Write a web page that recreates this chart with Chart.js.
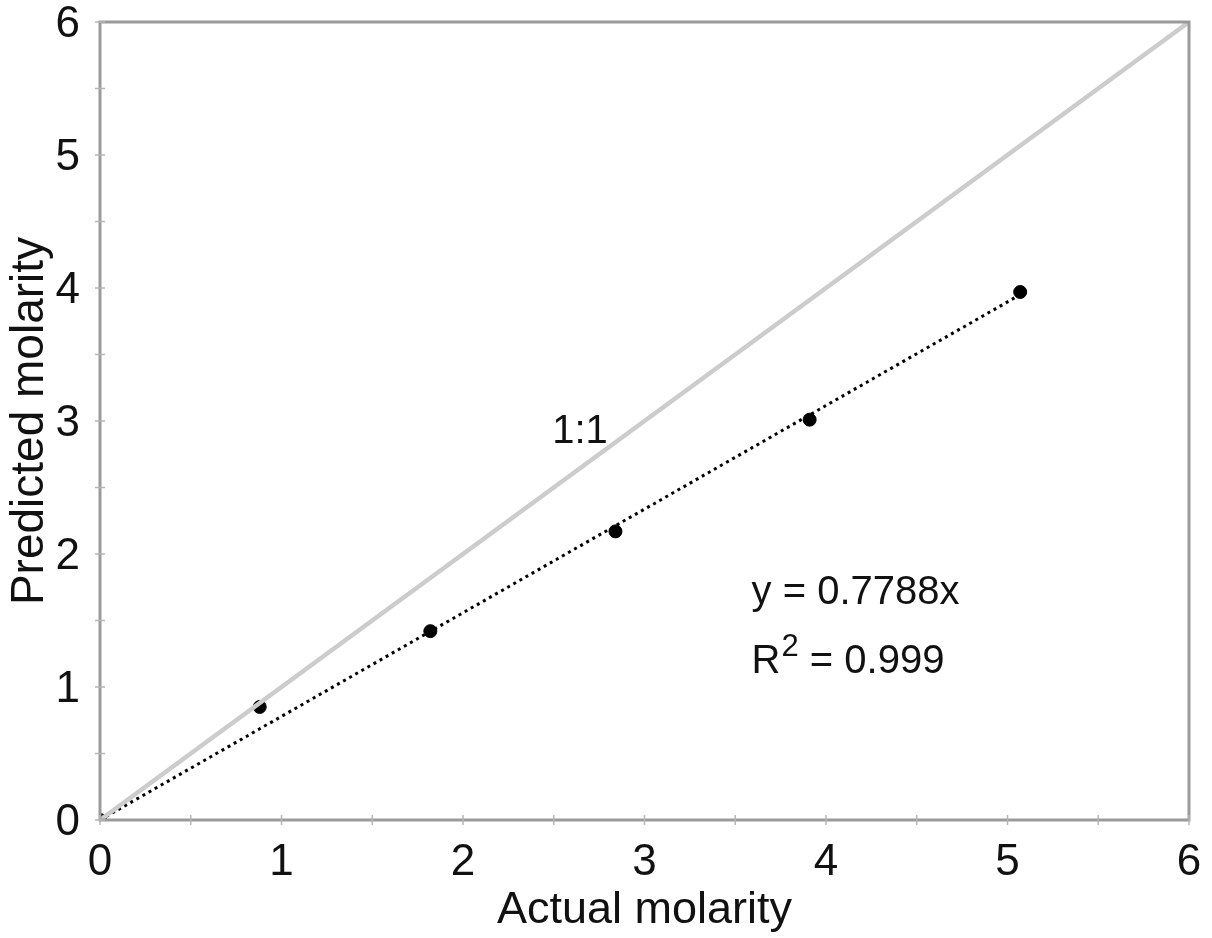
<!DOCTYPE html>
<html>
<head>
<meta charset="utf-8">
<script src="https://cdn.jsdelivr.net/npm/chart.js@4.4.0/dist/chart.umd.min.js"></script>
<style>
  html, body { margin: 0; padding: 0; background: #fff; }
  #wrap { width: 1212px; height: 938px; }
</style>
</head>
<body>
<div id="wrap"><canvas id="molarityChart" width="1212" height="938"></canvas></div>
<script>
// measured points
const actualMolarity = [0, 0.88, 1.82, 2.84, 3.91, 5.07];
const predictedMolarity = [0, 0.85, 1.42, 2.17, 3.01, 3.97];

// fitted trend line y = 0.7788x (end points)
const trendX = [0, 5.07];
const trendY = [0, 3.95];

// 1:1 reference line
const oneToOneX = [0, 6];
const oneToOneY = [0, 6];

const tickValues = [0, 1, 2, 3, 4, 5, 6];
const minorTickValues = [0.5, 1.5, 2.5, 3.5, 4.5, 5.5];

const FONT = 'Liberation Sans, Arial, sans-serif';
const AXIS_GRAY = '#9a9a9a';

function toPoints(xs, ys) {
    return xs.map((x, i) => ({ x: x, y: ys[i] }));
}

// keep label overhang from pushing the plot area around
function noPadding(scale) {
    scale.paddingTop = 0;
    scale.paddingBottom = 0;
    scale.paddingLeft = 0;
    scale.paddingRight = 0;
}

// frame, tick marks and text notes
const framePlugin = {
    id: 'frame',
    afterDraw(chart) {
        const ctx = chart.ctx;
        const xs = chart.scales.x;
        const ys = chart.scales.y;
        const a = chart.chartArea;
        ctx.save();
        ctx.strokeStyle = AXIS_GRAY;
        ctx.lineWidth = 3;
        ctx.strokeRect(a.left, a.top, a.right - a.left, a.bottom - a.top);

        ctx.lineWidth = 1.5;
        ctx.strokeStyle = '#b5b5b5';
        tickValues.concat(minorTickValues).forEach(v => {
            const px = xs.getPixelForValue(v);
            ctx.beginPath();
            ctx.moveTo(px, a.bottom - 5);
            ctx.lineTo(px, a.bottom + 5);
            ctx.stroke();
            const py = ys.getPixelForValue(v);
            ctx.beginPath();
            ctx.moveTo(a.left - 5, py);
            ctx.lineTo(a.left + 5, py);
            ctx.stroke();
        });

        ctx.fillStyle = '#111';
        ctx.textBaseline = 'middle';
        ctx.font = '40px ' + FONT;
        ctx.textAlign = 'center';
        ctx.fillText('1:1', xs.getPixelForValue(2.645), ys.getPixelForValue(2.92));

        ctx.textAlign = 'left';
        const ex = xs.getPixelForValue(3.59);
        ctx.fillText('y = 0.7788x', ex, ys.getPixelForValue(1.71));
        const ry = ys.getPixelForValue(1.19);
        ctx.fillText('R', ex, ry);
        const rw = ctx.measureText('R').width;
        ctx.font = '31px ' + FONT;
        ctx.fillText('2', ex + rw + 1, ry - 14);
        const sw = ctx.measureText('2').width;
        ctx.font = '40px ' + FONT;
        ctx.fillText(' = 0.999', ex + rw + sw + 1, ry);
        ctx.restore();
    }
};

new Chart(document.getElementById('molarityChart'), {
    type: 'scatter',
    data: {
        datasets: [
            {
                label: '1:1',
                type: 'line',
                data: toPoints(oneToOneX, oneToOneY),
                borderColor: '#cccccc',
                borderWidth: 4.5,
                pointRadius: 0,
                fill: false
            },
            {
                label: 'Trend',
                type: 'line',
                data: toPoints(trendX, trendY),
                borderColor: '#000',
                borderWidth: 3,
                borderDash: [3, 4],
                pointRadius: 0,
                fill: false
            },
            {
                label: 'Data',
                data: toPoints(actualMolarity, predictedMolarity),
                backgroundColor: '#000',
                borderColor: '#000',
                pointRadius: 6.5,
                pointHoverRadius: 6.5
            }
        ]
    },
    options: {
        responsive: false,
        animation: false,
        layout: { padding: { top: 22, right: 23, bottom: 0, left: 0 } },
        plugins: {
            legend: { display: false },
            tooltip: { enabled: false }
        },
        scales: {
            x: {
                type: 'linear',
                min: 0,
                max: 6,
                afterFit(scale) { scale.height = 118; noPadding(scale); },
                afterBuildTicks(scale) { scale.ticks = tickValues.map(v => ({ value: v })); },
                grid: { display: false, drawTicks: false },
                border: { display: false },
                ticks: {
                    color: '#111',
                    padding: 16,
                    font: { family: FONT, size: 44 }
                },
                title: {
                    display: true,
                    text: 'Actual molarity',
                    color: '#111',
                    font: { family: FONT, size: 45, lineHeight: 1.2 },
                    padding: { top: 0, bottom: 0 }
                }
            },
            y: {
                type: 'linear',
                min: 0,
                max: 6,
                afterFit(scale) { scale.width = 100; noPadding(scale); },
                afterBuildTicks(scale) { scale.ticks = tickValues.map(v => ({ value: v })); },
                grid: { display: false, drawTicks: false },
                border: { display: false },
                ticks: {
                    color: '#111',
                    padding: 20,
                    labelOffset: 3,
                    font: { family: FONT, size: 44 }
                },
                title: {
                    display: true,
                    text: 'Predicted molarity',
                    color: '#111',
                    font: { family: FONT, size: 46, lineHeight: 1.2 },
                    padding: { top: 3, bottom: 0 }
                }
            }
        }
    },
    plugins: [framePlugin]
});
</script>
</body>
</html>
